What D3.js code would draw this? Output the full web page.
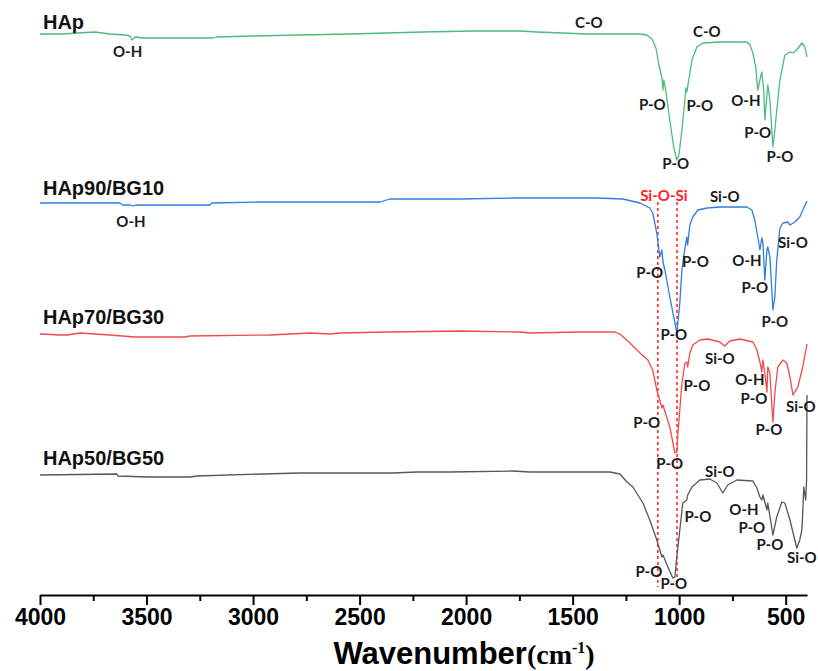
<!DOCTYPE html>
<html>
<head>
<meta charset="utf-8">
<script src="https://cdn.jsdelivr.net/npm/d3@7"></script>
<style>
  body { margin: 0; background: #fff; }
  svg { display: block; }
</style>
</head>
<body>
<svg width="818" height="671"></svg>
<script>
// offset transmittance (a.u.) vs wavenumber
const hap = [
  [4000, 561], [3897, 561], [3742, 563], [3672, 561], [3601, 560], [3578, 559], [3568, 555],
  [3554, 558], [3517, 557], [3188, 557], [3174, 558], [3000, 559], [2780, 560], [2545, 561],
  [2203, 563], [1968, 564], [1748, 564], [1668, 563], [1433, 561], [1184, 561], [1152, 560],
  [1128, 556], [1109, 547], [1095, 530], [1081, 517], [1076, 505], [1072, 515], [1062, 503],
  [1044, 475], [1025, 447], [1011, 435], [1001, 440], [987, 465], [973, 495], [969, 507],
  [964, 503], [955, 515], [940, 535], [917, 548], [889, 552], [809, 553], [682, 553],
  [668, 550], [654, 542], [640, 527], [631, 505], [621, 515], [612, 523], [603, 505],
  [598, 475], [588, 500], [584, 510], [574, 495], [560, 448], [551, 465], [537, 495],
  [527, 515], [504, 540], [480, 543], [466, 542], [448, 545], [424, 552], [410, 548], [400, 538]
];
const hap90 = [
  [4000, 392], [3625, 392], [3611, 390], [3578, 390], [3564, 389], [3550, 390], [3202, 390],
  [3193, 392], [2977, 393], [2780, 393], [2404, 393], [2358, 396], [2029, 396], [1780, 397],
  [1386, 397], [1264, 396], [1184, 392], [1138, 387], [1124, 382], [1105, 362], [1091, 338],
  [1081, 345], [1076, 333], [1067, 325], [1044, 298], [1020, 272], [1011, 262], [997, 292],
  [987, 325], [973, 347], [964, 358], [960, 350], [950, 370], [936, 378], [912, 385],
  [870, 387], [809, 388], [682, 388], [659, 385], [645, 375], [631, 358], [621, 345],
  [612, 357], [607, 353], [598, 315], [588, 345], [584, 348], [574, 338], [560, 285],
  [551, 298], [542, 335], [527, 367], [513, 372], [490, 373], [480, 370], [457, 373],
  [434, 378], [420, 385], [400, 394]
];
const hap70 = [
  [4000, 261], [3906, 260], [3873, 260], [3812, 262], [3672, 260], [3554, 258], [3320, 258],
  [3296, 259], [2921, 260], [2733, 262], [2639, 261], [2592, 262], [2372, 263], [2020, 264],
  [1748, 263], [1701, 262], [1466, 263], [1302, 263], [1278, 261], [1231, 252], [1184, 242],
  [1147, 235], [1124, 225], [1105, 205], [1091, 195], [1081, 187], [1076, 190], [1044, 168],
  [1020, 142], [1011, 143], [1006, 162], [997, 185], [987, 212], [973, 232], [964, 233],
  [960, 228], [950, 242], [936, 250], [903, 255], [865, 256], [809, 253], [786, 249],
  [762, 254], [715, 256], [654, 253], [635, 245], [621, 233], [612, 223], [607, 235],
  [598, 222], [588, 203], [584, 228], [574, 222], [560, 173], [551, 202], [537, 228],
  [513, 235], [495, 232], [480, 218], [466, 200], [443, 208], [420, 228], [400, 251]
];
const hap50 = [
  [4000, 120], [3639, 121], [3634, 119], [3493, 118], [3296, 118], [3263, 119], [2954, 121],
  [2780, 122], [2559, 122], [2344, 122], [2231, 123], [2076, 123], [1780, 124], [1701, 123],
  [1325, 123], [1278, 121], [1245, 113], [1217, 108], [1170, 92], [1138, 75], [1105, 55],
  [1081, 38], [1076, 40], [1053, 28], [1030, 17], [1020, 18], [1011, 38], [997, 65],
  [983, 92], [964, 95], [960, 100], [940, 108], [903, 115], [856, 116], [823, 112],
  [795, 102], [772, 110], [729, 115], [654, 114], [635, 107], [621, 98], [612, 95],
  [607, 100], [588, 85], [584, 92], [560, 60], [542, 78], [518, 93], [504, 92], [480, 75],
  [448, 47], [434, 55], [424, 65], [420, 82], [415, 108], [406, 95], [402, 115], [400, 200]
];

const seriesNames = ["HAp", "HAp90/BG10", "HAp70/BG30", "HAp50/BG50"];
const seriesColors = ["#4dbb7d", "#2f7de1", "#f24a4a", "#575757"];
const seriesData = [hap, hap90, hap70, hap50];
const nameAnchors = [[3986, 566], [3986, 400], [3986, 271], [3986, 130]];

// band assignments: [text, wavenumber, a.u.]
const bandLabels = [
  ["O-H", 3589, 538], ["C-O", 1424, 567], ["C-O", 870, 558], ["P-O", 1126, 485],
  ["P-O", 903, 484], ["P-O", 1016, 426], ["O-H", 687, 489], ["P-O", 631, 457], ["P-O", 527, 433],
  ["O-H", 3573, 368], ["Si-O", 786, 393], ["P-O", 1138, 317], ["P-O", 924, 328],
  ["O-H", 682, 329], ["Si-O", 466, 347], ["P-O", 645, 302], ["P-O", 551, 268], ["P-O", 1025, 255],
  ["Si-O", 809, 231], ["P-O", 917, 204], ["O-H", 668, 210], ["P-O", 649, 191], ["Si-O", 429, 183],
  ["P-O", 579, 160], ["P-O", 1152, 167], ["P-O", 1044, 126],
  ["Si-O", 809, 118], ["P-O", 912, 73], ["O-H", 696, 80], ["P-O", 659, 62], ["P-O", 574, 45],
  ["Si-O", 424, 32], ["P-O", 1142, 18], ["P-O", 1025, 6]
];
const siosiLines = [1100, 1010];
const siosiLabel = ["Si-O-Si", 1072, 394];

const majorTicks = [4000, 3500, 3000, 2500, 2000, 1500, 1000, 500];
const minorTicks = [3750, 3250, 2750, 2250, 1750, 1250, 750];

const svg = d3.select("svg");
const x = d3.scaleLinear().domain([4000, 400]).range([40, 807]);
const y = d3.scaleLinear().domain([0, 570]).range([595, 25]);

const line = d3.line()
  .x(d => x(d[0]))
  .y(d => y(d[1]));

// dashed guide lines for Si-O-Si
svg.append("g")
  .selectAll("line")
  .data(siosiLines)
  .join("line")
  .attr("x1", d => x(d)).attr("x2", d => x(d))
  .attr("y1", y(393)).attr("y2", y(8))
  .attr("stroke", "#ff1f1f")
  .attr("stroke-width", 1.5)
  .attr("stroke-dasharray", "3,3");

svg.append("g")
  .selectAll("path")
  .data(seriesData)
  .join("path")
  .attr("d", line)
  .attr("fill", "none")
  .attr("stroke", (d, i) => seriesColors[i])
  .attr("stroke-width", 1.3)
  .attr("stroke-linejoin", "round");

svg.append("g")
  .selectAll("text")
  .data(seriesNames)
  .join("text")
  .attr("x", (d, i) => x(nameAnchors[i][0]))
  .attr("y", (d, i) => y(nameAnchors[i][1]))
  .style("font-family", "'Liberation Sans', Arial, sans-serif")
  .style("font-weight", "bold")
  .style("font-size", "20px")
  .attr("fill", "#111")
  .text(d => d);

svg.append("g")
  .selectAll("text")
  .data(bandLabels)
  .join("text")
  .attr("x", d => x(d[1]))
  .attr("y", d => y(d[2]))
  .attr("text-anchor", "middle")
  .style("font-family", "Lato, 'Open Sans', sans-serif")
  .style("font-weight", "bold")
  .style("font-size", "15px")
  .attr("fill", "#1a1a1a")
  .text(d => d[0]);

svg.append("text")
  .attr("x", x(siosiLabel[1]))
  .attr("y", y(siosiLabel[2]))
  .attr("text-anchor", "middle")
  .style("font-family", "Lato, 'Open Sans', sans-serif")
  .style("font-weight", "bold")
  .style("font-size", "15px")
  .attr("fill", "#ff1f1f")
  .text(siosiLabel[0]);

// x axis
const axisY = 595;
const gx = svg.append("g")
  .attr("transform", `translate(0,${axisY})`)
  .call(d3.axisBottom(x).tickValues(majorTicks).tickSize(10).tickSizeOuter(0).tickPadding(4)
    .tickFormat(d3.format("d")));
gx.select(".domain").attr("stroke-width", 2);
gx.selectAll(".tick line").attr("stroke-width", 2);
gx.selectAll(".tick text")
  .style("font-family", "'Liberation Sans Narrow', 'Arial Narrow', 'Liberation Sans', sans-serif")
  .style("font-weight", "bold")
  .style("font-size", "23px")
  .attr("fill", "#000");

svg.append("g")
  .attr("transform", `translate(0,${axisY})`)
  .call(d3.axisBottom(x).tickValues(minorTicks).tickSize(6).tickFormat(""))
  .call(g => g.select(".domain").remove())
  .selectAll(".tick line").attr("stroke-width", 2);

const title = svg.append("text")
  .attr("x", 464)
  .attr("y", 664)
  .attr("text-anchor", "middle");
title.append("tspan")
  .style("font-family", "'Liberation Sans Narrow', 'Arial Narrow', 'Liberation Sans', sans-serif")
  .style("font-weight", "bold")
  .style("font-size", "31px")
  .text("Wavenumber");
title.append("tspan")
  .style("font-family", "'Liberation Serif', 'Times New Roman', serif")
  .style("font-weight", "bold")
  .style("font-size", "28px")
  .text("(cm");
title.append("tspan")
  .attr("dy", -11)
  .style("font-family", "'Liberation Serif', 'Times New Roman', serif")
  .style("font-weight", "bold")
  .style("font-size", "16px")
  .text("-1");
title.append("tspan")
  .attr("dy", 11)
  .style("font-family", "'Liberation Serif', 'Times New Roman', serif")
  .style("font-weight", "bold")
  .style("font-size", "28px")
  .text(")");
</script>
</body>
</html>
